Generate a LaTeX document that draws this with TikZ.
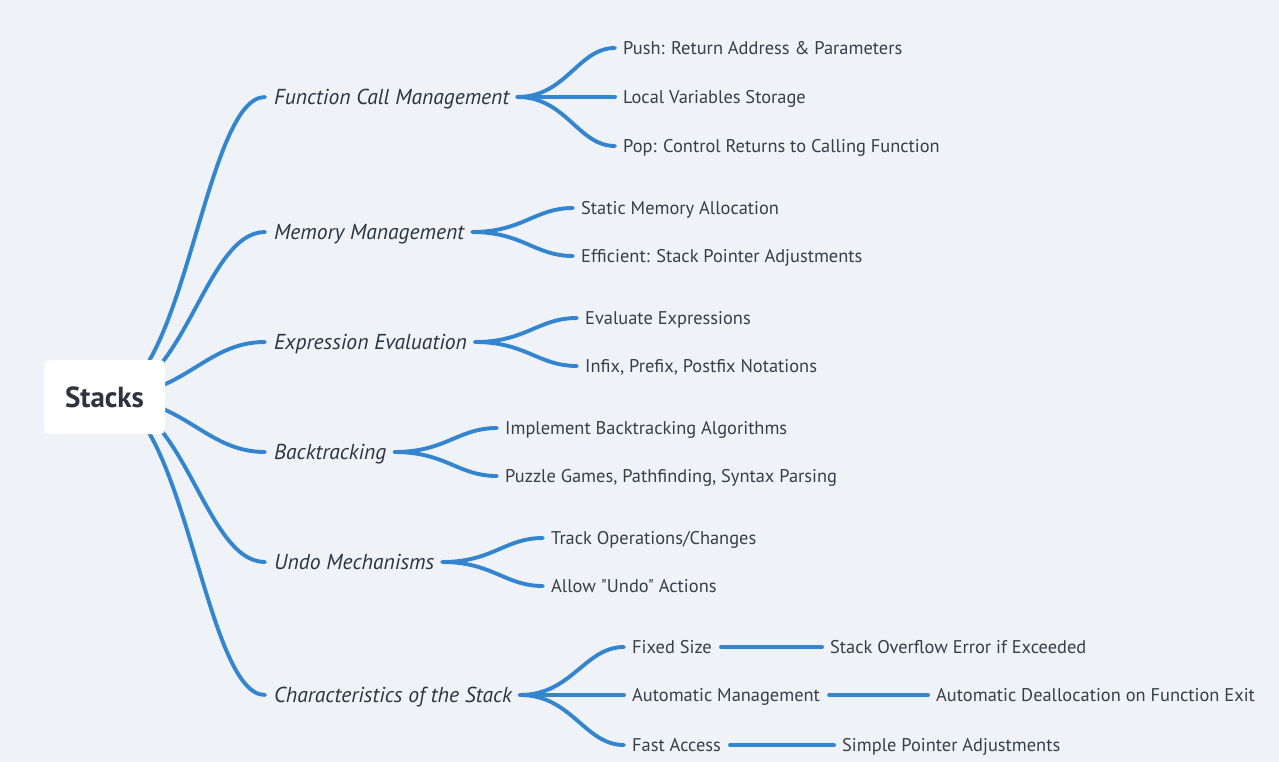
\documentclass[tikz,border=0pt]{standalone}
\usepackage{fontspec}
\setmainfont{PT Sans}[Ligatures=TeXOff]
\usetikzlibrary{calc}
\definecolor{bg}{HTML}{EFF3F7}
\definecolor{blu}{HTML}{3485CF}
\definecolor{leaftxt}{HTML}{383E47}
\definecolor{toptxt}{HTML}{2C3440}
\newcommand\mlink[2]{\draw[edge] let \p1=(#1), \p2=(#2) in (\p1) .. controls ({\x1+0.5*(\x2-\x1)},\y1) and ({\x1+0.62*(\x2-\x1)},\y2) .. (\p2);}
\begin{document}
\begin{tikzpicture}[x=1pt,y=-1pt,
  edge/.style={draw=blu,line width=3.9pt,line cap=round},
  leaf/.style={anchor=west,inner sep=0pt,text height=12.8pt,text depth=0pt,font=\fontsize{18.4}{21}\selectfont,text=leaftxt},
  topic/.style={anchor=west,inner sep=0pt,text height=15pt,text depth=0pt,font=\fontsize{21.6}{25}\selectfont\itshape,text=toptxt},
  rootbox/.style={fill=white,draw=black!5,rounded corners=5pt,minimum width=121pt,minimum height=74pt,inner sep=0pt,font=\fontsize{29}{32}\selectfont\bfseries,text=toptxt},
]
\useasboundingbox (0,0) rectangle (1279,762);
\fill[bg] (0,0) rectangle (1279,762);

% topics
\node[topic] (fcm) at (274,97) {Function Call Management};
\node[topic] (mem) at (274,232) {Memory Management};
\node[topic] (exp) at (274,342) {Expression Evaluation};
\node[topic] (bt)  at (274,452) {Backtracking};
\node[topic] (undo) at (274,562) {Undo Mechanisms};
\node[topic] (chr) at (274,695) {Characteristics of the Stack};

% leaves
\node[leaf] (push) at (623,48) {Push: Return Address \& Parameters};
\node[leaf] (loc)  at (623,97) {Local Variables Storage};
\node[leaf] (pop)  at (623,146) {Pop: Control Returns to Calling Function};
\node[leaf] (sma)  at (581,208) {Static Memory Allocation};
\node[leaf] (eff)  at (581,256) {Efficient: Stack Pointer Adjustments};
\node[leaf] (eva)  at (585,318) {Evaluate Expressions};
\node[leaf] (inf)  at (585,366) {Infix, Prefix, Postfix Notations};
\node[leaf] (iba)  at (505,428) {Implement Backtracking Algorithms};
\node[leaf] (puz)  at (505,476) {Puzzle Games, Pathfinding, Syntax Parsing};
\node[leaf] (trk)  at (551,538) {Track Operations/Changes};
\node[leaf] (alw)  at (551,586) {Allow "Undo" Actions};
\node[leaf] (fix)  at (632,647) {Fixed Size};
\node[leaf] (aut)  at (632,695) {Automatic Management};
\node[leaf] (fast) at (632,745) {Fast Access};
\node[leaf] (sof)  at (830,647) {Stack Overflow Error if Exceeded};
\node[leaf] (ada)  at (936,695) {Automatic Deallocation on Function Exit};
\node[leaf] (spa)  at (842,745) {Simple Pointer Adjustments};

% root-to-topic curves
\coordinate (rc) at (104.5,397);
\foreach \t in {fcm,mem,exp,bt,undo,chr}{\mlink{rc}{[xshift=-9pt]\t.west}}

% topic-to-leaf curves
\foreach \a/\b in {fcm/push,fcm/loc,fcm/pop,mem/sma,mem/eff,exp/eva,exp/inf,bt/iba,bt/puz,undo/trk,undo/alw,chr/fix,chr/aut,chr/fast}{\mlink{[xshift=8pt]\a.east}{[xshift=-8pt]\b.west}}

% leaf-to-leaf lines
\foreach \a/\b in {fix/sof,aut/ada,fast/spa}{\draw[edge] ([xshift=9pt]\a.east) -- ([xshift=-8pt]\b.west);}

\node[rootbox] (root) at (rc) {Stacks};
\end{tikzpicture}
\end{document}
